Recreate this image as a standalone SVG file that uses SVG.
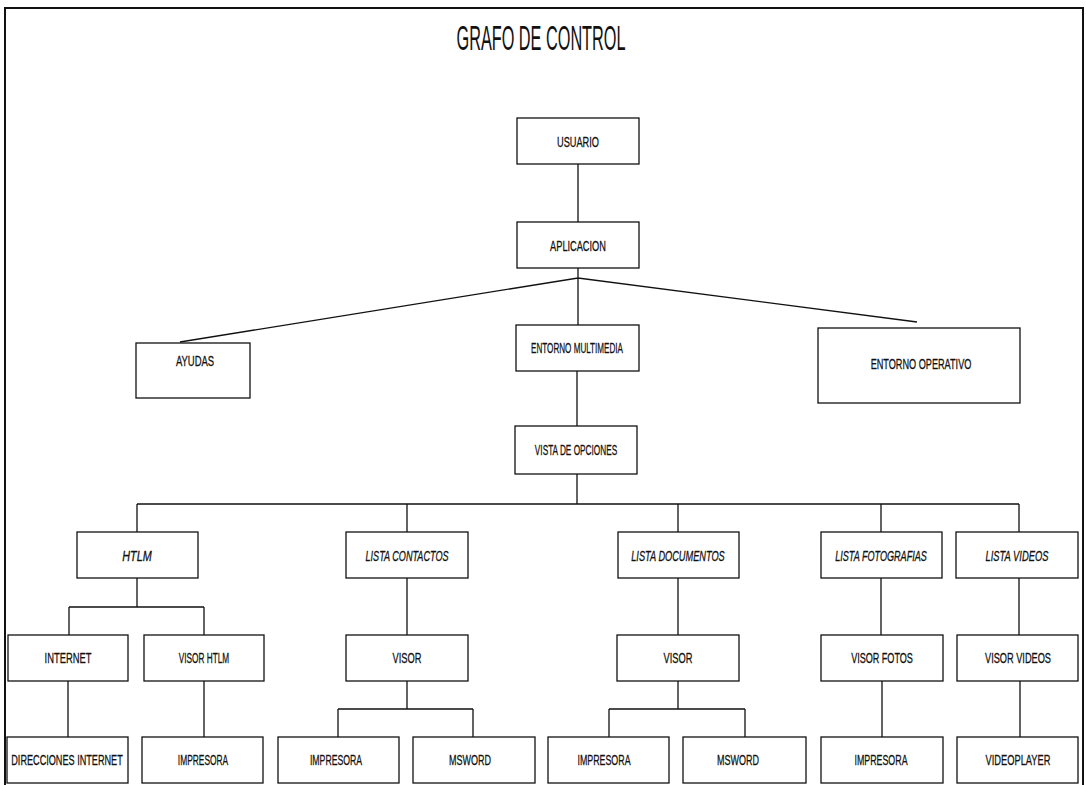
<svg xmlns="http://www.w3.org/2000/svg" width="1086" height="785" viewBox="0 0 1086 785">
<style>
.box{fill:#fff;stroke:#111;stroke-width:1.3}
.ln{fill:none;stroke:#111;stroke-width:1.3}
.frame{fill:none;stroke:#111;stroke-width:2}
.t{font-family:"Liberation Sans",Arial,sans-serif;font-size:15px;fill:#111;stroke:#111;stroke-width:0.3;text-anchor:middle}
.i{font-style:italic}
.title{font-family:"Liberation Sans",Arial,sans-serif;font-size:35px;fill:#111;text-anchor:middle}
</style>
<rect x="0" y="0" width="1086" height="785" fill="#fff"/>
<path class="frame" d="M5,795 L5,8 L1083,8 L1083,795"/>
<text class="title" transform="translate(541,50) scale(0.465,1)">GRAFO DE CONTROL</text>
<g id="connectors">
<path class="ln" d="M578,164 V222 M578,268 V325 M180,342 L578,278 L917,322"/>
<path class="ln" d="M577,371 V426 M577,474 V504 M137,504 H1019 M137,504 V532 M407,504 V532 M678,504 V532 M881,504 V532 M1019,504 V532"/>
<path class="ln" d="M137,578 V607 M69,607 H204 M69,607 V635 M204,607 V635 M68,681 V737 M204,681 V737"/>
<path class="ln" d="M407,578 V635 M407,681 V709 M338,709 H473 M338,709 V737 M473,709 V737"/>
<path class="ln" d="M678,578 V635 M678,681 V709 M609,709 H745 M609,709 V737 M745,709 V737"/>
<path class="ln" d="M881,578 V635 M882,681 V737 M1019,578 V635 M1020,681 V737"/>
</g>
<g id="usuario"><rect class="box" x="517" y="118" width="122" height="46"/><text class="t" transform="translate(578,147) scale(0.615,1)">USUARIO</text></g>
<g id="aplicacion"><rect class="box" x="517" y="222" width="122" height="46"/><text class="t" transform="translate(578,251) scale(0.615,1)">APLICACION</text></g>
<g id="ayudas"><rect class="box" x="136" y="343" width="114" height="55"/><text class="t" transform="translate(195,366) scale(0.63,1)">AYUDAS</text></g>
<g id="entorno-multimedia"><rect class="box" x="516" y="325" width="123" height="46"/><text class="t" transform="translate(577,353) scale(0.54,1)">ENTORNO MULTIMEDIA</text></g>
<g id="entorno-operativo"><rect class="box" x="818" y="328" width="202" height="75"/><text class="t" transform="translate(921,369) scale(0.61,1)">ENTORNO OPERATIVO</text></g>
<g id="vista-opciones"><rect class="box" x="515" y="426" width="122" height="48"/><text class="t" transform="translate(576,455) scale(0.55,1)">VISTA DE OPCIONES</text></g>
<g id="htlm"><rect class="box" x="77" y="532" width="121" height="46"/><text class="t i" transform="translate(137,561) scale(0.72,1)">HTLM</text></g>
<g id="lista-contactos"><rect class="box" x="346" y="532" width="122" height="46"/><text class="t i" transform="translate(407,561) scale(0.607,1)">LISTA CONTACTOS</text></g>
<g id="lista-documentos"><rect class="box" x="618" y="532" width="121" height="46"/><text class="t i" transform="translate(678,561) scale(0.615,1)">LISTA DOCUMENTOS</text></g>
<g id="lista-fotografias"><rect class="box" x="821" y="532" width="121" height="46"/><text class="t i" transform="translate(881,561) scale(0.606,1)">LISTA FOTOGRAFIAS</text></g>
<g id="lista-videos"><rect class="box" x="956" y="532" width="122" height="46"/><text class="t i" transform="translate(1017,561) scale(0.624,1)">LISTA VIDEOS</text></g>
<g id="internet"><rect class="box" x="8" y="635" width="120" height="46"/><text class="t" transform="translate(68,663) scale(0.627,1)">INTERNET</text></g>
<g id="visor-htlm"><rect class="box" x="144" y="635" width="120" height="46"/><text class="t" transform="translate(204,663) scale(0.55,1)">VISOR HTLM</text></g>
<g id="visor-contactos"><rect class="box" x="346" y="635" width="122" height="46"/><text class="t" transform="translate(407,663) scale(0.62,1)">VISOR</text></g>
<g id="visor-documentos"><rect class="box" x="617" y="635" width="122" height="46"/><text class="t" transform="translate(678,663) scale(0.62,1)">VISOR</text></g>
<g id="visor-fotos"><rect class="box" x="821" y="635" width="122" height="46"/><text class="t" transform="translate(882,663) scale(0.605,1)">VISOR FOTOS</text></g>
<g id="visor-videos"><rect class="box" x="957" y="635" width="121" height="46"/><text class="t" transform="translate(1018,663) scale(0.614,1)">VISOR VIDEOS</text></g>
<g id="direcciones-internet"><rect class="box" x="7" y="737" width="121" height="46"/><text class="t" transform="translate(67,765) scale(0.608,1)">DIRECCIONES INTERNET</text></g>
<g id="impresora-htlm"><rect class="box" x="142" y="737" width="121" height="46"/><text class="t" transform="translate(203,765) scale(0.56,1)">IMPRESORA</text></g>
<g id="impresora-contactos"><rect class="box" x="278" y="737" width="121" height="46"/><text class="t" transform="translate(336,765) scale(0.58,1)">IMPRESORA</text></g>
<g id="msword-contactos"><rect class="box" x="413" y="737" width="122" height="46"/><text class="t" transform="translate(470,765) scale(0.6,1)">MSWORD</text></g>
<g id="impresora-documentos"><rect class="box" x="548" y="737" width="121" height="46"/><text class="t" transform="translate(604,765) scale(0.59,1)">IMPRESORA</text></g>
<g id="msword-documentos"><rect class="box" x="683" y="737" width="123" height="46"/><text class="t" transform="translate(738,765) scale(0.6,1)">MSWORD</text></g>
<g id="impresora-fotos"><rect class="box" x="821" y="737" width="122" height="46"/><text class="t" transform="translate(881,765) scale(0.59,1)">IMPRESORA</text></g>
<g id="videoplayer"><rect class="box" x="957" y="737" width="121" height="46"/><text class="t" transform="translate(1018,765) scale(0.62,1)">VIDEOPLAYER</text></g>
</svg>
